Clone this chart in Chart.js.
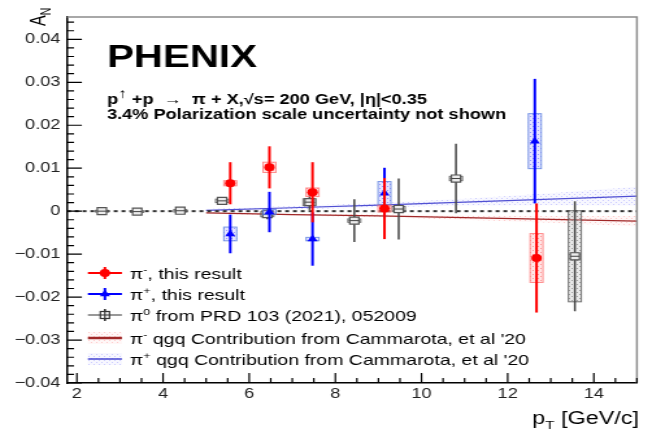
<!DOCTYPE html>
<html>
<head>
<meta charset="utf-8">
<title>PHENIX A_N vs pT</title>
<script src="https://cdn.jsdelivr.net/npm/chart.js@4.4.1/dist/chart.umd.min.js"></script>
<style>
  html, body { margin: 0; padding: 0; background: #fff; }
  canvas { display: block; background: #fff; }
</style>
</head>
<body>
<!-- the original figure is stretched sideways, so the canvas is drawn 512 wide and shown 665 wide -->
<canvas id="anChart" width="512" height="436" style="width:665px;height:436px"></canvas>
<script>
// axis ranges and tick labels
var xMin = 1.77, xMax = 15;
var yMin = -0.04, yMax = 0.0452;
var xTickValues = [2, 4, 6, 8, 10, 12, 14];
var yTickValues = [-0.04, -0.03, -0.02, -0.01, 0, 0.01, 0.02, 0.03, 0.04];

// pi- , this result
var piMinusPt   = [5.56, 6.47, 7.47, 9.14, 12.67];
var piMinusAN   = [0.0065, 0.0102, 0.0044, 0.0006, -0.0109];
var piMinusStat = [0.0049, 0.0049, 0.0070, 0.0071, 0.0127];
var piMinusSys  = [0.0006, 0.0012, 0.0010, 0.0008, 0.0057];

// pi+ , this result
var piPlusPt   = [5.56, 6.47, 7.47, 9.14, 12.63];
var piPlusAN   = [-0.0053, -0.0002, -0.0065, 0.0042, 0.0163];
var piPlusStat = [0.0045, 0.0047, 0.0062, 0.0059, 0.0145];
var piPlusSys  = [0.0016, 0.0006, 0.0004, 0.0027, 0.0064];

// pi0 from PRD 103 (2021), 052009
var piZeroPt   = [2.58, 3.40, 4.40, 5.37, 6.42, 7.40, 8.44, 9.47, 10.80, 13.56];
var piZeroAN   = [0.0000, -0.0001, 0.0001, 0.0024, -0.0007, 0.0021, -0.0022, 0.0005, 0.0076, -0.0105];
var piZeroStat = [0.0003, 0.0003, 0.0005, 0.0008, 0.0012, 0.0018, 0.0050, 0.0071, 0.0081, 0.0128];
var piZeroSys  = [0.0002, 0.0002, 0.0003, 0.0004, 0.0006, 0.0008, 0.0004, 0.0006, 0.0005, 0.0106];

// qgq contribution, Cammarota et al '20
var theoryPt    = [5, 7, 9, 11, 13, 15];
var qgqPlus     = [0.0002, 0.0008, 0.0014, 0.0021, 0.0028, 0.0035];
var qgqPlusErr  = [0.0003, 0.0004, 0.0005, 0.0008, 0.0014, 0.0022];
var qgqMinus    = [-0.0004, -0.0008, -0.0011, -0.0015, -0.0019, -0.0023];
var qgqMinusErr = [0.0002, 0.0002, 0.0003, 0.0005, 0.0008, 0.0012];

var FONT = '"Liberation Sans", Arial, Helvetica, sans-serif';

function pts(xs, ys) {
    return xs.map(function (x, i) { return { x: x, y: ys[i] }; });
}
function shifted(ys, es, sign) {
    return ys.map(function (y, i) { return y + sign * es[i]; });
}
function hatch(base, dot) {
    var c = document.createElement('canvas');
    c.width = 4; c.height = 4;
    var g = c.getContext('2d');
    g.fillStyle = base; g.fillRect(0, 0, 4, 4);
    g.fillStyle = dot; g.fillRect(0, 0, 1, 1); g.fillRect(2, 2, 1, 1);
    return g.createPattern(c, 'repeat');
}

var redHatch  = hatch('rgba(255,170,170,0.30)', 'rgba(255,90,90,0.55)');
var blueHatch = hatch('rgba(170,170,255,0.30)', 'rgba(90,90,255,0.55)');
var grayHatch = hatch('rgba(190,190,190,0.35)', 'rgba(110,110,110,0.6)');
var redBand   = hatch('rgba(255,190,190,0.12)', 'rgba(255,120,120,0.35)');
var blueBand  = hatch('rgba(190,190,255,0.12)', 'rgba(120,120,255,0.35)');

// text with super/subscripts
function richText(c, x, y, parts, size, weight, draw) {
    parts.forEach(function (p) {
        var s = p.size ? size * p.size : ((p.sup || p.sub) ? size * 0.65 : size);
        var dy = p.sup ? -size * 0.4 : (p.sub ? size * 0.3 : 0);
        c.font = (p.w || weight) + ' ' + s + 'px ' + FONT;
        if (draw) c.fillText(p.t, x, y + dy);
        x += c.measureText(p.t).width;
    });
    return x;
}

// systematic boxes and statistical bars, drawn just under each marker set
var errorBars = {
    id: 'errorBars',
    beforeDatasetDraw: function (chart, args) {
        var ds = chart.data.datasets[args.index];
        if (!ds.stat) return;
        var c = chart.ctx, xs = chart.scales.x, ys = chart.scales.y;
        c.save();
        ds.data.forEach(function (p, j) {
            var px = xs.getPixelForValue(p.x);
            var x0 = xs.getPixelForValue(p.x - 0.15), x1 = xs.getPixelForValue(p.x + 0.15);
            var y0 = ys.getPixelForValue(p.y + ds.sys[j]), y1 = ys.getPixelForValue(p.y - ds.sys[j]);
            c.fillStyle = ds.boxFill;
            c.fillRect(x0, y0, x1 - x0, y1 - y0);
            c.strokeStyle = ds.boxLine; c.lineWidth = 1;
            c.strokeRect(x0, y0, x1 - x0, y1 - y0);
            c.strokeStyle = ds.barColor; c.lineWidth = ds.barWidth;
            c.beginPath();
            c.moveTo(px, ys.getPixelForValue(p.y + ds.stat[j]));
            c.lineTo(px, ys.getPixelForValue(p.y - ds.stat[j]));
            c.stroke();
        });
        c.restore();
    },
    afterDatasetDraw: function (chart, args) {
        var ds = chart.data.datasets[args.index];
        if (!ds.midLine) return;
        var c = chart.ctx, xs = chart.scales.x, ys = chart.scales.y;
        c.save();
        c.strokeStyle = ds.barColor; c.lineWidth = 1;
        c.beginPath();
        ds.data.forEach(function (p) {
            var px = xs.getPixelForValue(p.x), py = ys.getPixelForValue(p.y);
            c.moveTo(px - 3.5, py); c.lineTo(px + 3.5, py);
        });
        c.stroke();
        c.restore();
    }
};

var decorations = {
    id: 'decorations',
    afterDraw: function (chart) {
        var c = chart.ctx, a = chart.chartArea, xs = chart.scales.x, ys = chart.scales.y;
        c.save();

        // top / right frame
        c.strokeStyle = '#8c8c8c'; c.lineWidth = 1.5;
        c.beginPath();
        c.moveTo(a.left, a.top); c.lineTo(a.right, a.top); c.lineTo(a.right, a.bottom);
        c.stroke();

        // inward ticks, ROOT style
        c.strokeStyle = '#000'; c.lineWidth = 1.2;
        c.beginPath();
        for (var i = 0; i <= 42; i++) {
            var ty = ys.getPixelForValue(yMin + i * 0.002);
            c.moveTo(a.left, ty); c.lineTo(a.left + (i % 5 === 0 ? 11.5 : 5.4), ty);
        }
        for (var k = 0; 2 + k * 0.5 <= xMax; k++) {
            var tx = xs.getPixelForValue(2 + k * 0.5);
            c.moveTo(tx, a.bottom); c.lineTo(tx, a.bottom - (k % 4 === 0 ? 10 : 5));
        }
        c.stroke();

        // labels
        c.fillStyle = '#000';
        c.textBaseline = 'alphabetic';
        c.textAlign = 'left';
        c.font = 'bold 31px ' + FONT;
        c.fillText('PHENIX', 82.4, 67);
        richText(c, 82.4, 104, [
            { t: 'p' }, { t: '\u2191', sup: true, size: 0.95, w: 'normal' }, { t: ' +p  ' },
            { t: '\u2192', w: 'normal' }, { t: '  \u03c0 + X,\u221as= 200 GeV, |\u03b7|<0.35' }
        ], 14, 'bold', true);
        c.font = 'bold 14px ' + FONT;
        c.fillText('3.4% Polarization scale uncertainty not shown', 82.4, 119);

        // axis titles
        var xt = [{ t: 'p' }, { t: 'T', sub: true }, { t: ' [GeV/c]' }];
        var w = richText(c, 0, 0, xt, 18, 'normal', false);
        richText(c, 492 - w, 424, xt, 18, 'normal', true);
        c.save();
        c.translate(34.6, 26);
        c.rotate(-Math.PI / 2);
        richText(c, 0, 0, [{ t: 'A' }, { t: 'N', sub: true }], 16, 'normal', true);
        c.restore();

        // legend
        var lx0 = 67.7, lx1 = 93.9, lxm = (lx0 + lx1) / 2, ltx = 100;
        var rows = [273, 294, 315, 338, 359];
        var texts = [
            [{ t: '\u03c0' }, { t: '-', sup: true }, { t: ', this result' }],
            [{ t: '\u03c0' }, { t: '+', sup: true }, { t: ', this result' }],
            [{ t: '\u03c0' }, { t: '0', sup: true }, { t: ' from PRD 103 (2021), 052009' }],
            [{ t: '\u03c0' }, { t: '-', sup: true }, { t: ' qgq Contribution from Cammarota, et al \'20' }],
            [{ t: '\u03c0' }, { t: '+', sup: true }, { t: ' qgq Contribution from Cammarota, et al \'20' }]
        ];
        function errLine(y, col, lw) {
            c.strokeStyle = col; c.lineWidth = lw;
            c.beginPath();
            c.moveTo(lx0, y); c.lineTo(lx1, y);
            c.moveTo(lxm, y - 6); c.lineTo(lxm, y + 6);
            c.stroke();
        }
        errLine(rows[0], 'rgb(255,0,0)', 2);
        c.fillStyle = 'rgb(255,0,0)';
        c.beginPath(); c.arc(lxm, rows[0], 4, 0, Math.PI * 2); c.fill();
        errLine(rows[1], 'rgb(0,0,255)', 2);
        c.fillStyle = 'rgb(0,0,255)';
        c.beginPath();
        c.moveTo(lxm, rows[1] - 4.5); c.lineTo(lxm + 3.9, rows[1] + 2.3); c.lineTo(lxm - 3.9, rows[1] + 2.3);
        c.closePath(); c.fill();
        errLine(rows[2], '#333', 1.2);
        c.fillStyle = '#fff'; c.fillRect(lxm - 3.5, rows[2] - 3.5, 7, 7);
        c.strokeStyle = '#333'; c.lineWidth = 1.2;
        c.strokeRect(lxm - 3.5, rows[2] - 3.5, 7, 7);
        c.beginPath(); c.moveTo(lxm, rows[2] - 6); c.lineTo(lxm, rows[2] + 6);
        c.moveTo(lxm - 3.5, rows[2]); c.lineTo(lxm + 3.5, rows[2]); c.stroke();
        c.fillStyle = redBand; c.fillRect(lx0, rows[3] - 6, lx1 - lx0, 12);
        c.strokeStyle = 'rgb(160,40,40)'; c.lineWidth = 2.5;
        c.beginPath(); c.moveTo(lx0, rows[3]); c.lineTo(lx1, rows[3]); c.stroke();
        c.fillStyle = blueBand; c.fillRect(lx0, rows[4] - 6, lx1 - lx0, 12);
        c.strokeStyle = 'rgb(70,70,210)'; c.lineWidth = 1.5;
        c.beginPath(); c.moveTo(lx0, rows[4]); c.lineTo(lx1, rows[4]); c.stroke();
        c.fillStyle = '#000';
        texts.forEach(function (t, i) { richText(c, ltx, rows[i] + 5.5, t, 15, 'normal', true); });

        c.restore();
    }
};

Chart.defaults.font.family = FONT;

var ctx = document.getElementById('anChart');
new Chart(ctx, {
    type: 'line',
    data: {
        datasets: [
            {
                label: 'pi- this result', data: pts(piMinusPt, piMinusAN), showLine: false, order: 1,
                pointStyle: 'circle', pointRadius: 4, pointBorderWidth: 0,
                pointBackgroundColor: 'rgb(255,0,0)', pointBorderColor: 'rgb(255,0,0)',
                stat: piMinusStat, sys: piMinusSys, barColor: 'rgb(255,0,0)', barWidth: 2,
                boxFill: redHatch, boxLine: 'rgba(255,110,110,0.75)'
            },
            {
                label: 'pi+ this result', data: pts(piPlusPt, piPlusAN), showLine: false, order: 2,
                pointStyle: 'triangle', pointRadius: 4.5, pointBorderWidth: 0,
                pointBackgroundColor: 'rgb(0,0,255)', pointBorderColor: 'rgb(0,0,255)',
                stat: piPlusStat, sys: piPlusSys, barColor: 'rgb(0,0,255)', barWidth: 2,
                boxFill: blueHatch, boxLine: 'rgba(80,120,220,0.75)'
            },
            {
                label: 'pi0 PRD 103', data: pts(piZeroPt, piZeroAN), showLine: false, order: 3,
                pointStyle: 'rect', pointRadius: 5, pointBorderWidth: 1.2,
                pointBackgroundColor: 'rgb(235,235,235)', pointBorderColor: '#555',
                stat: piZeroStat, sys: piZeroSys, barColor: '#444', barWidth: 1.5, midLine: true,
                boxFill: grayHatch, boxLine: 'rgba(80,80,80,0.8)'
            },
            {
                label: 'zero', data: [{ x: xMin, y: 0 }, { x: xMax, y: 0 }], order: 4,
                borderColor: '#333', borderWidth: 2, borderDash: [3, 3], pointRadius: 0, fill: false
            },
            {
                label: 'qgq pi+', data: pts(theoryPt, qgqPlus), order: 5,
                borderColor: 'rgb(80,80,210)', borderWidth: 1.2, pointRadius: 0, fill: false
            },
            {
                label: 'qgq pi- ', data: pts(theoryPt, qgqMinus), order: 6,
                borderColor: 'rgb(160,40,40)', borderWidth: 1.2, pointRadius: 0, fill: false
            },
            {
                label: 'qgq pi+ up', data: pts(theoryPt, shifted(qgqPlus, qgqPlusErr, 1)), order: 7,
                borderWidth: 0, pointRadius: 0, fill: '+1', backgroundColor: blueBand
            },
            {
                label: 'qgq pi+ low', data: pts(theoryPt, shifted(qgqPlus, qgqPlusErr, -1)), order: 8,
                borderWidth: 0, pointRadius: 0, fill: false
            },
            {
                label: 'qgq pi- up', data: pts(theoryPt, shifted(qgqMinus, qgqMinusErr, 1)), order: 9,
                borderWidth: 0, pointRadius: 0, fill: '+1', backgroundColor: redBand
            },
            {
                label: 'qgq pi- low', data: pts(theoryPt, shifted(qgqMinus, qgqMinusErr, -1)), order: 10,
                borderWidth: 0, pointRadius: 0, fill: false
            }
        ]
    },
    options: {
        responsive: false,
        animation: false,
        layout: { padding: { top: 17, right: 21.6, left: 0, bottom: 0 } },
        plugins: {
            legend: { display: false },
            tooltip: { enabled: false }
        },
        scales: {
            x: {
                type: 'linear', min: xMin, max: xMax,
                afterFit: function (s) { s.height = 53; },
                afterBuildTicks: function (s) { s.ticks = xTickValues.map(function (v) { return { value: v }; }); },
                grid: { display: false, drawTicks: false },
                border: { display: true, color: '#000', width: 1.5 },
                ticks: { padding: 3, color: '#222', font: { size: 14 }, maxRotation: 0,
                    callback: function (v) { return String(v); } }
            },
            y: {
                type: 'linear', min: yMin, max: yMax,
                afterFit: function (s) { s.width = 51.6; },
                afterBuildTicks: function (s) { s.ticks = yTickValues.map(function (v) { return { value: v }; }); },
                grid: { display: false, drawTicks: false },
                border: { display: true, color: '#000', width: 1.5 },
                ticks: { padding: 5, color: '#222', font: { size: 14 },
                    callback: function (v) {
                        if (Math.abs(v) < 1e-9) return '0';
                        return (v < 0 ? '\u2212' : '') + Math.abs(v).toFixed(2);
                    } }
            }
        }
    },
    plugins: [errorBars, decorations]
});
</script>
</body>
</html>
